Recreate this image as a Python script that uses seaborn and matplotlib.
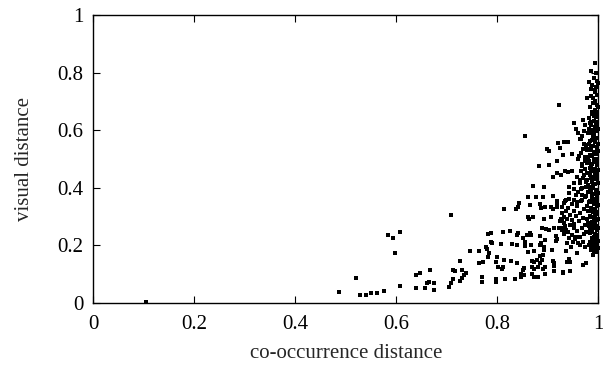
import matplotlib
matplotlib.use("Agg")
import matplotlib.pyplot as plt
import seaborn as sns
import pandas as pd

# scattered points (co-occurrence distance, visual distance)
sparse_x = [0.105, 0.486, 0.521, 0.528, 0.540, 0.549, 0.561, 0.576, 0.584, 0.594,
            0.608, 0.597, 0.608, 0.640, 0.647, 0.667, 0.640, 0.657, 0.660, 0.664,
            0.675, 0.675, 0.709, 0.704, 0.709, 0.713, 0.712, 0.717, 0.813, 0.838,
            0.781, 0.787, 0.811, 0.825, 0.839, 0.787, 0.790, 0.808, 0.829, 0.746,
            0.764, 0.780, 0.784, 0.781, 0.772, 0.763, 0.727, 0.800, 0.797, 0.813,
            0.827, 0.840, 0.802, 0.811, 0.809, 0.731, 0.739, 0.735, 0.730, 0.727,
            0.769, 0.769, 0.798, 0.798, 0.815, 0.836, 0.778]
sparse_y = [0.002, 0.038, 0.087, 0.028, 0.029, 0.036, 0.036, 0.043, 0.236, 0.227,
            0.247, 0.172, 0.060, 0.098, 0.103, 0.113, 0.052, 0.053, 0.068, 0.072,
            0.069, 0.045, 0.304, 0.056, 0.071, 0.082, 0.115, 0.111, 0.327, 0.325,
            0.240, 0.244, 0.245, 0.250, 0.237, 0.212, 0.207, 0.205, 0.204, 0.182,
            0.182, 0.186, 0.172, 0.161, 0.142, 0.140, 0.145, 0.159, 0.142, 0.149,
            0.145, 0.140, 0.126, 0.126, 0.117, 0.115, 0.105, 0.096, 0.087, 0.075,
            0.091, 0.073, 0.084, 0.073, 0.082, 0.082, 0.195]

# middle cloud, x 0.84 - 0.94
mid_x = [0.843, 0.842, 0.864, 0.885, 0.886, 0.894, 0.906, 0.910, 0.919, 0.919,
         0.928, 0.932, 0.860, 0.862, 0.871, 0.892, 0.907, 0.926, 0.928, 0.932,
         0.889, 0.897, 0.903, 0.913, 0.923, 0.928, 0.936, 0.842, 0.858, 0.864,
         0.867, 0.885, 0.917, 0.919, 0.917, 0.852, 0.856, 0.840, 0.855, 0.867,
         0.886, 0.894, 0.884, 0.893, 0.860, 0.873, 0.892, 0.909, 0.936, 0.884,
         0.890, 0.868, 0.873, 0.878, 0.884, 0.889, 0.910, 0.913, 0.938, 0.854,
         0.851, 0.868, 0.873, 0.881, 0.890, 0.894, 0.913, 0.913, 0.847, 0.854,
         0.869, 0.872, 0.880, 0.894, 0.930, 0.848]
mid_y = [0.348, 0.332, 0.341, 0.344, 0.330, 0.332, 0.334, 0.325, 0.348, 0.332,
         0.332, 0.346, 0.300, 0.293, 0.298, 0.293, 0.298, 0.293, 0.284, 0.277,
         0.260, 0.256, 0.253, 0.260, 0.260, 0.253, 0.253, 0.242, 0.235, 0.244,
         0.237, 0.233, 0.233, 0.221, 0.214, 0.226, 0.212, 0.202, 0.198, 0.202,
         0.209, 0.219, 0.200, 0.195, 0.177, 0.179, 0.184, 0.184, 0.179, 0.163,
         0.166, 0.145, 0.142, 0.149, 0.138, 0.149, 0.145, 0.138, 0.142, 0.122,
         0.115, 0.126, 0.117, 0.126, 0.117, 0.126, 0.128, 0.112, 0.101, 0.096,
         0.101, 0.091, 0.091, 0.101, 0.105, 0.089]

# upper points left of the band
upper_x = [0.923, 0.855, 0.898, 0.902, 0.921, 0.932, 0.925, 0.930, 0.918, 0.882,
           0.903, 0.910, 0.919, 0.926, 0.935, 0.871, 0.892, 0.861, 0.877, 0.890,
           0.911, 0.919, 0.936, 0.969, 0.952, 0.974, 0.956, 0.960, 0.968, 0.964,
           0.941, 0.972, 0.948, 0.965, 0.977, 0.960, 0.974, 0.968, 0.941, 0.949,
           0.966, 0.974, 0.959, 0.969, 0.952, 0.964, 0.943, 0.952, 0.965, 0.943,
           0.956, 0.943, 0.952, 0.934, 0.959, 0.968, 0.968, 0.976, 0.978, 0.978,
           0.980, 0.994, 0.985, 0.982, 0.985, 0.978]
upper_y = [0.689, 0.580, 0.536, 0.529, 0.557, 0.559, 0.538, 0.515, 0.494, 0.476,
           0.478, 0.439, 0.450, 0.443, 0.457, 0.406, 0.404, 0.367, 0.369, 0.369,
           0.372, 0.355, 0.358, 0.635, 0.626, 0.617, 0.605, 0.589, 0.580, 0.568,
           0.559, 0.552, 0.517, 0.520, 0.534, 0.501, 0.508, 0.483, 0.455, 0.457,
           0.459, 0.466, 0.439, 0.434, 0.418, 0.416, 0.402, 0.395, 0.397, 0.381,
           0.376, 0.362, 0.358, 0.355, 0.351, 0.358, 0.376, 0.404, 0.427, 0.485,
           0.589, 0.832, 0.805, 0.767, 0.744, 0.712]

# lower points right of the middle cloud
lower_x = [0.936, 0.959, 0.943, 0.945, 0.970, 0.976, 0.930, 0.945, 0.964, 0.982, 0.985]
lower_y = [0.182, 0.172, 0.152, 0.142, 0.133, 0.138, 0.108, 0.112, 0.200, 0.200, 0.184]

# dense band next to x = 1
band_x = [0.996, 0.991, 0.997, 0.988, 0.995, 0.993, 0.998, 0.986, 0.994, 0.990,
          0.997, 0.984, 0.993, 0.998, 0.988, 0.995, 0.982, 0.991, 0.997, 0.986,
          0.994, 0.989, 0.998, 0.983, 0.992, 0.996, 0.987, 0.994, 0.981, 0.990,
          0.997, 0.985, 0.993, 0.998, 0.988, 0.995, 0.982, 0.991, 0.997, 0.986,
          0.994, 0.989, 0.998, 0.983, 0.992, 0.996, 0.987, 0.994, 0.980, 0.990,
          0.997, 0.985, 0.993, 0.998, 0.988, 0.995, 0.982, 0.991, 0.997, 0.986,
          0.994, 0.989, 0.998, 0.983, 0.992, 0.996, 0.987, 0.994, 0.981, 0.990,
          0.997, 0.985, 0.993, 0.998, 0.988, 0.995, 0.991, 0.997, 0.986, 0.994,
          0.998, 0.990,
          0.999, 0.994, 0.989, 0.999, 0.996, 0.985, 0.999, 0.990, 0.999, 0.984,
          0.999, 0.992, 0.999, 0.985, 0.990, 0.999, 0.983, 0.999, 0.988, 0.999,
          0.996, 0.979, 0.999, 0.989, 0.999, 0.983, 0.991, 0.999, 0.984, 0.999,
          0.992, 0.978, 0.979, 0.977, 0.976, 0.978, 0.977, 0.976,
          0.987, 0.992, 0.984, 0.996, 0.981, 0.989, 0.994, 0.983, 0.998, 0.986,
          0.991, 0.980, 0.995, 0.988, 0.983, 0.993, 0.997, 0.985, 0.990, 0.981,
          0.996, 0.987, 0.992, 0.984, 0.998, 0.989, 0.982, 0.994, 0.986, 0.991,
          0.979, 0.995, 0.988, 0.983, 0.997, 0.990, 0.985, 0.993, 0.980, 0.996]
band_y = [0.798, 0.781, 0.772, 0.756, 0.749, 0.731, 0.722, 0.718, 0.703, 0.694,
          0.687, 0.679, 0.671, 0.662, 0.655, 0.646, 0.641, 0.633, 0.627, 0.618,
          0.611, 0.601, 0.596, 0.590, 0.583, 0.574, 0.566, 0.559, 0.552, 0.546,
          0.539, 0.531, 0.524, 0.516, 0.509, 0.501, 0.494, 0.488, 0.479, 0.472,
          0.466, 0.457, 0.450, 0.444, 0.437, 0.429, 0.421, 0.414, 0.408, 0.401,
          0.393, 0.387, 0.379, 0.372, 0.366, 0.358, 0.351, 0.344, 0.337, 0.331,
          0.323, 0.316, 0.309, 0.302, 0.296, 0.288, 0.281, 0.274, 0.268, 0.261,
          0.254, 0.247, 0.240, 0.233, 0.226, 0.219, 0.211, 0.203, 0.196, 0.189,
          0.176, 0.168,
          0.765, 0.738, 0.712, 0.681, 0.657, 0.628, 0.605, 0.578, 0.553, 0.515,
          0.527, 0.497, 0.463, 0.459, 0.430, 0.418, 0.395, 0.382, 0.349, 0.341,
          0.315, 0.321, 0.292, 0.275, 0.262, 0.258, 0.230, 0.215, 0.212, 0.190,
          0.182, 0.532, 0.487, 0.451, 0.372, 0.338, 0.292, 0.245,
          0.663, 0.649, 0.624, 0.617, 0.603, 0.587, 0.568, 0.561, 0.543, 0.537,
          0.519, 0.506, 0.492, 0.481, 0.468, 0.453, 0.441, 0.433, 0.412, 0.403,
          0.389, 0.376, 0.362, 0.355, 0.344, 0.327, 0.318, 0.305, 0.298, 0.283,
          0.277, 0.266, 0.251, 0.243, 0.237, 0.222, 0.208, 0.199, 0.386, 0.436]

# left side of the band, x 0.95 - 0.975
edge_x = [0.972, 0.966, 0.975, 0.969, 0.962, 0.974, 0.967, 0.971, 0.963, 0.975,
          0.968, 0.961, 0.973, 0.966, 0.958, 0.972, 0.964, 0.956, 0.970, 0.962,
          0.974, 0.953, 0.967, 0.959, 0.972, 0.964, 0.955, 0.969, 0.961, 0.974]
edge_y = [0.596, 0.571, 0.548, 0.534, 0.512, 0.494, 0.476, 0.446, 0.428, 0.419,
          0.401, 0.386, 0.368, 0.354, 0.338, 0.327, 0.313, 0.302, 0.296, 0.284,
          0.271, 0.276, 0.259, 0.251, 0.238, 0.228, 0.222, 0.213, 0.207, 0.196]

# lower dense patch, x 0.92 - 0.96
patch_x = [0.948, 0.941, 0.952, 0.936, 0.944, 0.929, 0.939, 0.949, 0.932, 0.924,
           0.945, 0.935, 0.953, 0.927, 0.940, 0.948, 0.933, 0.957, 0.942, 0.951,
           0.938, 0.946]
patch_y = [0.342, 0.331, 0.318, 0.321, 0.306, 0.312, 0.292, 0.287, 0.298, 0.285,
           0.271, 0.266, 0.259, 0.262, 0.248, 0.236, 0.241, 0.228, 0.224, 0.212,
           0.208, 0.196]

df = pd.DataFrame({
    "co": sparse_x + mid_x + upper_x + lower_x + band_x + edge_x + patch_x,
    "vis": sparse_y + mid_y + upper_y + lower_y + band_y + edge_y + patch_y,
})

sns.set_style("ticks")
plt.rcParams["font.family"] = ["Liberation Serif", "DejaVu Serif"]

fig = plt.figure(figsize=(6.03, 3.73), dpi=100)
ax = fig.add_axes([0.155, 0.1877, 0.837, 0.7721])

sns.scatterplot(data=df, x="co", y="vis", marker="s", s=12, color="black",
                linewidth=0, ax=ax, legend=False, clip_on=False)

ax.set_xlim(0, 1)
ax.set_ylim(0, 1)
ax.set_xticks([0, 0.2, 0.4, 0.6, 0.8, 1])
ax.set_xticklabels(["0", "0.2", "0.4", "0.6", "0.8", "1"])
ax.set_yticks([0, 0.2, 0.4, 0.6, 0.8, 1])
ax.set_yticklabels(["0", "0.2", "0.4", "0.6", "0.8", "1"])
ax.tick_params(direction="in", length=5, width=0.8, top=True, right=True,
               labelsize=15, colors="black")
ax.tick_params(axis="x", pad=9)
ax.tick_params(axis="y", pad=7)
for sp in ax.spines.values():
    sp.set_visible(True)
    sp.set_linewidth(1.0)
    sp.set_color("black")

ax.set_xlabel("co-occurrence distance", fontsize=15, labelpad=7)
ax.set_ylabel("visual distance", fontsize=15, labelpad=17)

fig.savefig("out.png", dpi=100)
